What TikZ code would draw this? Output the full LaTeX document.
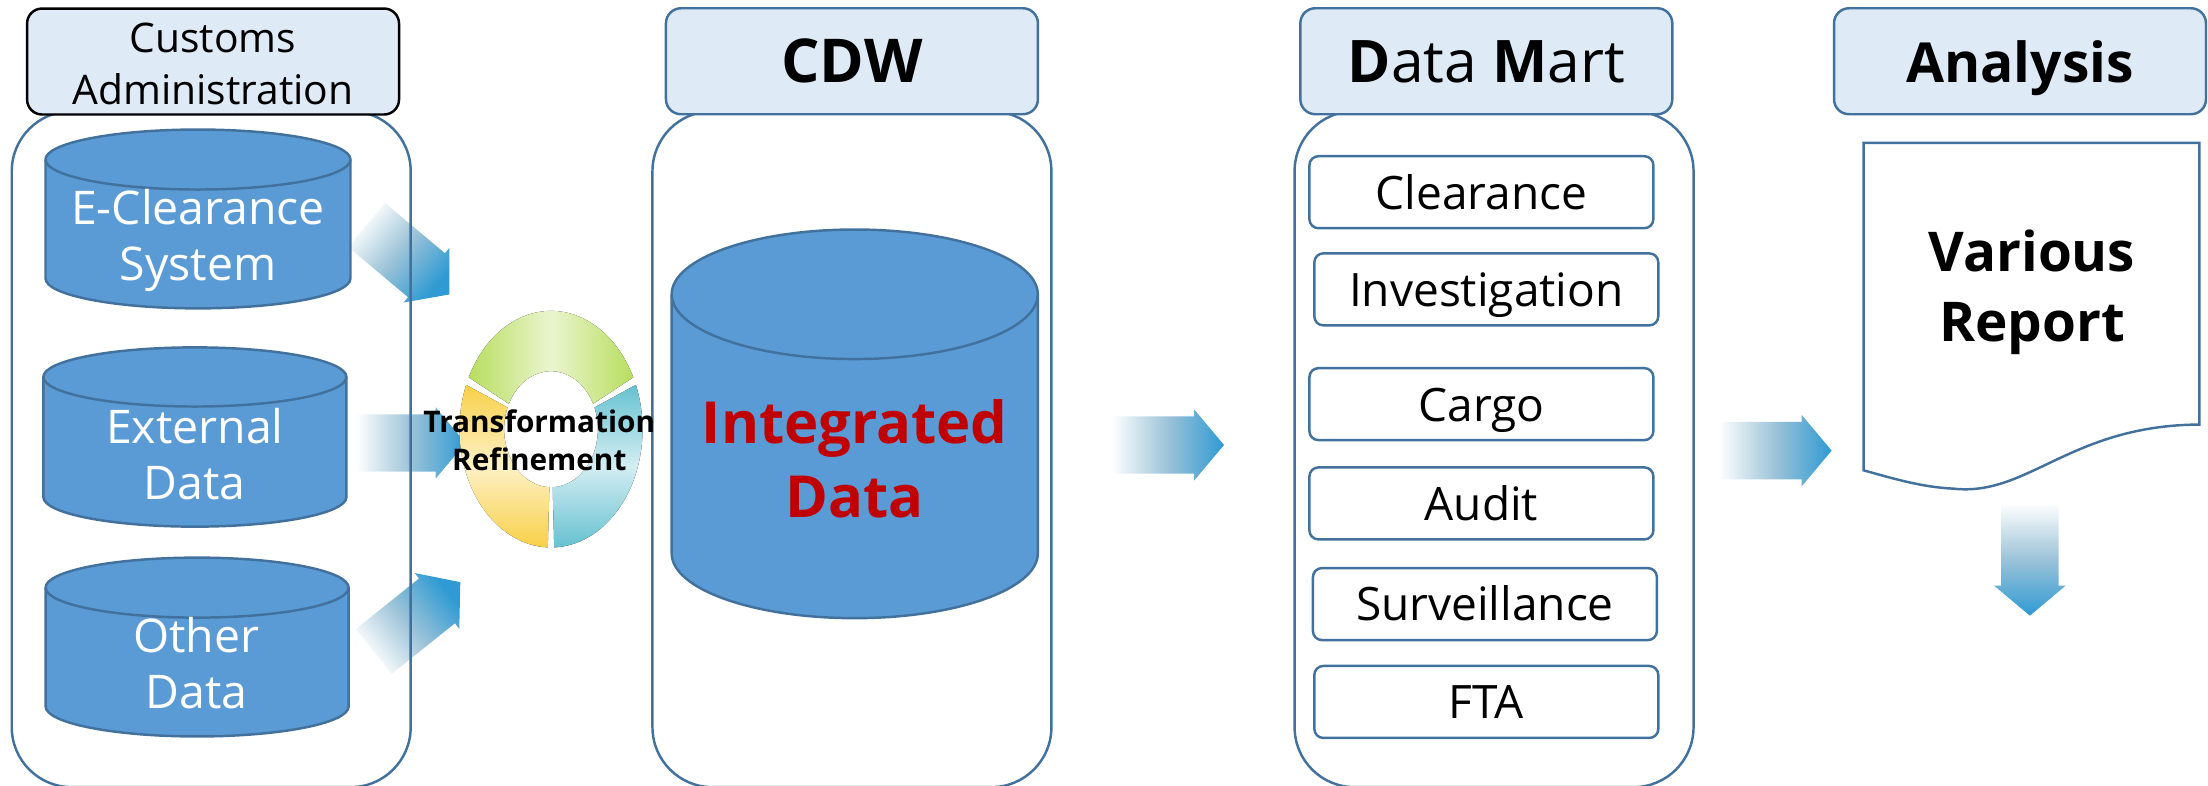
\documentclass[tikz,border=0pt]{standalone}
\usepackage{fontspec}
\setmainfont{Open Sans}
\usetikzlibrary{shapes.arrows}
\definecolor{borda}{HTML}{41719C}
\definecolor{azul}{HTML}{5B9BD5}
\definecolor{claro}{HTML}{DEEAF6}
\definecolor{setafim}{HTML}{2F9AD3}
\definecolor{setameio}{HTML}{9CC3D8}
\definecolor{verde}{HTML}{B7DE5E}
\definecolor{verdeclaro}{HTML}{EAF5CF}
\definecolor{laranja}{HTML}{F8D048}
\definecolor{laranjaclaro}{HTML}{FDF1C6}
\definecolor{agua}{HTML}{66C1D0}
\definecolor{aguaclara}{HTML}{D3EDF3}
\definecolor{vermelho}{HTML}{C00000}
\newcommand{\banco}[5]{
  \draw[draw=borda, line width=0.7pt, fill=azul] (#1-#3,#2) arc[start angle=180, end angle=0, x radius=#3, y radius=#4] -- ++(0,-#5) arc[start angle=0, end angle=-180, x radius=#3, y radius=#4] -- cycle;
  \draw[draw=borda, line width=0.7pt] (#1-#3,#2) arc[start angle=180, end angle=360, x radius=#3, y radius=#4];
}

\begin{document}
\begin{tikzpicture}[x=0.01408cm,y=0.01408cm]
\tikzstyle{painel}=[draw=borda, line width=0.7pt, rectangle, rounded corners=0.6cm, minimum width=3.99cm, minimum height=6.76cm]
\tikzstyle{titulo}=[draw=borda, line width=0.7pt, fill=claro, rectangle, rounded corners=0.15cm, minimum width=3.72cm, minimum height=1.06cm, inner sep=0pt, align=center, text height=12pt, text depth=0pt]
\tikzstyle{rotulo}=[align=center, inner sep=0pt, text=white, font=\fontsize{13.2}{16}\selectfont]
\tikzstyle{caixa}=[draw=borda, line width=0.7pt, rectangle, rounded corners=0.09cm, minimum width=3.44cm, minimum height=0.72cm, inner sep=0pt, text height=9.6pt, text depth=0pt, font=\fontsize{13.1}{15}\selectfont]
\tikzstyle{seta}=[single arrow, anchor=tail, single arrow head extend=0.07cm, single arrow tip angle=100, inner xsep=0pt, inner ysep=0.28cm, minimum height=1.13cm, left color=white, right color=setafim, middle color=setameio]

\path[use as bounding box] (0,0) rectangle (1568,558);

\node[seta, rotate=-40, shading angle=50, minimum height=1.08cm] (seta1) at (260,398.5) {};
\node[seta, minimum height=1.1cm] (seta2) at (252,243.4) {};
\node[seta, rotate=38.7, shading angle=128.7, minimum height=1.11cm] (seta3) at (265,95) {};
\node[seta] (seta4) at (788.5,242) {};
\node[seta] (seta5) at (1220,238) {};
\node[seta, rotate=-90, shading angle=0] (seta6) at (1441.5,201.5) {};

\begin{scope}[shift={(391.3,253.2)}]
\fill[left color=verde, right color=verde, middle color=verdeclaro] (154:65 and 84) arc[start angle=154, end angle=26, x radius=65, y radius=84] -- (26:33.3 and 41.2) arc[start angle=26, end angle=154, x radius=33.3, y radius=41.2] -- cycle;
\fill[top color=agua, bottom color=agua, middle color=aguaclara] (22:65 and 84) arc[start angle=22, end angle=-88, x radius=65, y radius=84] -- (-88:33.3 and 41.2) arc[start angle=-88, end angle=22, x radius=33.3, y radius=41.2] -- cycle;
\fill[top color=laranja, bottom color=laranja, middle color=laranjaclaro] (158:65 and 84) arc[start angle=158, end angle=268, x radius=65, y radius=84] -- (268:33.3 and 41.2) arc[start angle=268, end angle=158, x radius=33.3, y radius=41.2] -- cycle;
\end{scope}

\node[painel] (painel1) at (150,239) {};
\node[painel] (painel2) at (605,239) {};
\node[painel] (painel3) at (1061,239) {};

\node[titulo, draw=black, text height=24.6pt, font=\fontsize{11.6}{14.8}\selectfont] (alfandega) at (151.3,514.3) {Customs\\Administration};
\node[titulo, font=\fontsize{17.2}{19}\selectfont] (cdw) at (605,514.5) {\textbf{CDW}};
\node[titulo, font=\fontsize{16.7}{19}\selectfont] (mart) at (1055.5,514.5) {\textbf{D}ata \textbf{M}art};
\node[titulo, font=\fontsize{15.7}{19}\selectfont] (analise) at (1434.5,514.5) {\textbf{Analysis}};

\banco{140.6}{444.7}{108.3}{21.3}{84.4}
\banco{138.4}{290.3}{107.6}{21}{85.3}
\banco{140}{140.7}{107.6}{21.3}{84.4}
\banco{607}{349}{130}{46}{184}
\node[rotulo] (sistema) at (140.6,387) {E-Clearance\\System};
\node[rotulo] (externos) at (138.4,235.5) {External\\Data};
\node[rotulo] (outros) at (139.5,87) {Other\\Data};
\node[rotulo, text=vermelho, font=\bfseries\fontsize{16.5}{21}\selectfont] (integrado) at (607,232) {Integrated\\Data};

\node[font=\bfseries\fontsize{8.47}{10.8}\selectfont, align=center, inner sep=0pt] (refino) at (383,245.5) {Transformation\\Refinement};

\node[caixa] (liberacao) at (1052,421.5) {Clearance};
\node[caixa] (investigacao) at (1055.5,352.5) {Investigation};
\node[caixa] (carga) at (1052,271) {Cargo};
\node[caixa] (auditoria) at (1052,200.5) {Audit};
\node[caixa] (vigilancia) at (1054.5,129) {Surveillance};
\node[caixa] (fta) at (1055.5,59.5) {FTA};

\draw[draw=borda, line width=0.7pt] (1323.4,456.5) -- (1561.8,456.5) -- (1561.8,256.5) .. controls (1470,256) and (1440,205) .. (1387,211) .. controls (1365,212) and (1345,218) .. (1323.4,224) -- cycle;
\node[font=\bfseries\fontsize{15.6}{20}\selectfont, align=center, inner sep=0pt] (relatorio) at (1443,350.5) {Various\\Report};
\end{tikzpicture}
\end{document}
